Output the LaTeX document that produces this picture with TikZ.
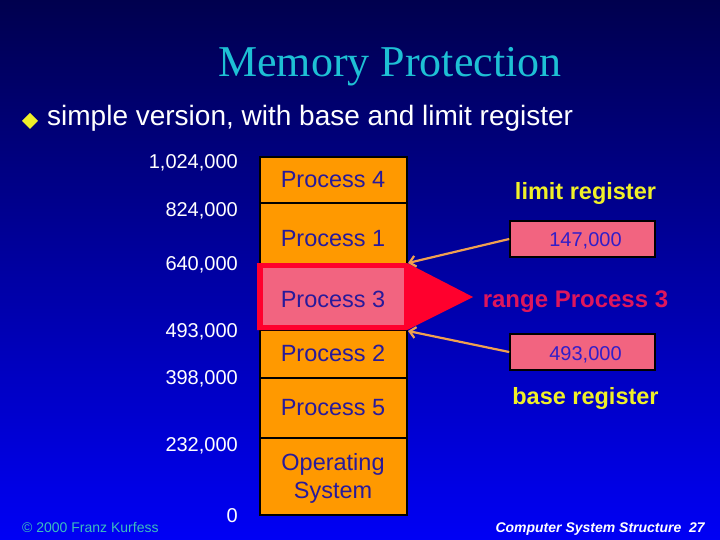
\documentclass[tikz,border=0pt]{standalone}
\usepackage{fontspec}
\setmainfont{Liberation Sans}
\newfontfamily\titlefont{Liberation Serif}
\usetikzlibrary{arrows.meta,shapes.geometric}
\definecolor{bgtop}{RGB}{0,0,78}
\definecolor{bgbot}{RGB}{0,0,245}
\definecolor{titlecyan}{RGB}{30,192,212}
\definecolor{memorange}{RGB}{255,153,0}
\definecolor{memtext}{RGB}{40,26,155}
\definecolor{pinkfill}{RGB}{242,100,128}
\definecolor{hired}{RGB}{255,0,45}
\definecolor{rangered}{RGB}{222,22,92}
\definecolor{regyellow}{RGB}{240,240,40}
\definecolor{arrorange}{RGB}{240,160,80}
\definecolor{regtext}{RGB}{50,30,200}
\definecolor{copycyan}{RGB}{60,190,190}
\tikzset{
  membox/.style={draw=black, line width=1.5pt, fill=memorange, minimum width=147pt, inner sep=0pt},
  memlabel/.style={text=memtext, font=\fontsize{23.5}{28}\selectfont, anchor=base, inner sep=0pt},
  addrlabel/.style={text=white, font=\fontsize{20}{24}\selectfont, anchor=base east, inner sep=0pt},
  regbox/.style={draw=black, line width=1.5pt, fill=pinkfill, minimum width=145pt, minimum height=36pt, inner sep=0pt},
  regval/.style={text=regtext, font=\fontsize{20}{24}\selectfont, anchor=base, inner sep=0pt},
  regname/.style={text=regyellow, font=\bfseries\fontsize{23.5}{28}\selectfont, anchor=base, inner sep=0pt},
  ptr/.style={draw=arrorange, line width=2.2pt, -{Straight Barb[length=6pt,width=11pt]}}
}
\begin{document}
\begin{tikzpicture}[x=1pt,y=-1pt]
\useasboundingbox (0,0) rectangle (720,540);
\shade[top color=bgtop, bottom color=bgbot] (0,0) rectangle (720,540);
% title
\node[text=titlecyan, font=\titlefont\fontsize{44}{50}\selectfont, anchor=base, inner sep=0pt] (title) at (390,77) {Memory Protection};
% bullet
\fill[regyellow] (22,121) -- (30,113) -- (38,121) -- (30,129) -- cycle;
\node[text=white, font=\fontsize{28}{32}\selectfont, anchor=base west, inner sep=0pt] (bt) at (47,126) {simple version, with base and limit register};
% memory column
\node[membox, minimum height=46pt] (p4) at (333.5,180) {};
\node[membox, minimum height=61pt] (p1) at (333.5,233.5) {};
\node[membox, minimum height=66pt] (p3) at (333.5,297) {};
\node[membox, minimum height=48pt] (p2) at (333.5,354) {};
\node[membox, minimum height=60pt] (p5) at (333.5,408) {};
\node[membox, minimum height=77pt] (os) at (333.5,476.5) {};
% highlight of process 3
\fill[hired] (257,263) -- (407,263) -- (473,297) -- (407,330) -- (257,330) -- cycle;
\fill[pinkfill] (263,268) rectangle (404,325);
\coordinate (lt) at (408,263);
\coordinate (lb) at (408,331);
% process labels
\node[memlabel] (t4) at (333,188) {Process 4};
\node[memlabel] (t1) at (333,247) {Process 1};
\node[memlabel] (t3) at (333,307) {Process 3};
\node[memlabel] (t2) at (333,361) {Process 2};
\node[memlabel] (t5) at (333,415) {Process 5};
\node[memlabel] (tos1) at (333,470) {Operating};
\node[memlabel] (tos2) at (333,498) {System};
% address labels
\node[addrlabel] (a1) at (238,169) {1,024,000};
\node[addrlabel] (a2) at (238,217) {824,000};
\node[addrlabel] (a3) at (238,270) {640,000};
\node[addrlabel] (a4) at (238,337) {493,000};
\node[addrlabel] (a5) at (238,384) {398,000};
\node[addrlabel] (a6) at (238,451) {232,000};
\node[addrlabel] (a7) at (238,522) {0};
% registers
\node[regname] (limname) at (585.5,200) {limit register};
\node[regbox] (lim) at (582.5,239) {};
\node[regval] (limval) at (585.5,246) {147,000};
\node[text=rangered, font=\bfseries\fontsize{24}{28}\selectfont, anchor=base, inner sep=0pt] (range) at (575.5,307) {range Process 3};
\node[regbox] (base) at (582.5,352) {};
\node[regval] (baseval) at (585.5,360) {493,000};
\node[regname] (basename) at (585.5,404) {base register};
\draw[ptr] (lim.west) -- (lt);
\draw[ptr] (base.west) -- (lb);
% footer
\node[text=copycyan, font=\fontsize{14}{16}\selectfont, anchor=base west, inner sep=0pt] (copy) at (22,532) {\textcopyright{} 2000 Franz Kurfess};
\node[text=white, font=\bfseries\itshape\fontsize{14}{16}\selectfont, anchor=base east, inner sep=0pt] (foot) at (705,532) {Computer System Structure\ \ 27};
\end{tikzpicture}
\end{document}
